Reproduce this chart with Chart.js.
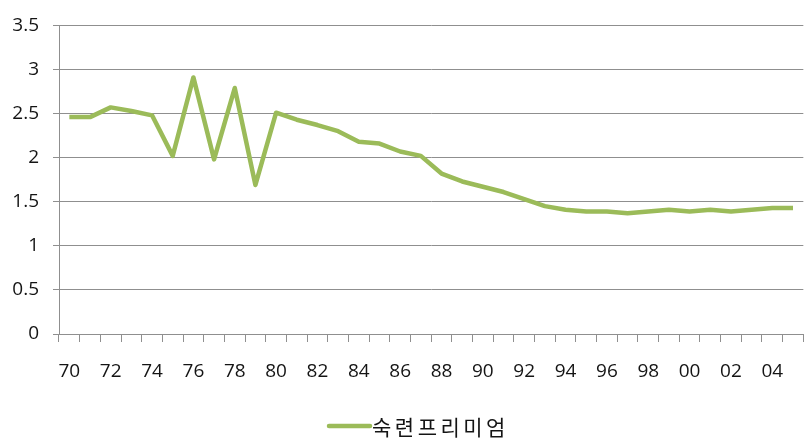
<!DOCTYPE html>
<html lang="ko">
<head>
<meta charset="utf-8">
<title>숙련프리미엄</title>
<script src="https://cdn.jsdelivr.net/npm/chart.js@4/dist/chart.umd.min.js"></script>
<style>
  html, body { margin: 0; padding: 0; background: #ffffff; overflow: hidden; }
  #wrap { position: relative; width: 811px; height: 441px; }
</style>
</head>
<body>
<div id="wrap"><canvas id="chart"></canvas></div>
<script>
// Years 1970–2005, two-digit labels
const years = ['70','71','72','73','74','75','76','77','78','79',
               '80','81','82','83','84','85','86','87','88','89',
               '90','91','92','93','94','95','96','97','98','99',
               '00','01','02','03','04','05'];

// Skill premium by year
const skillPremium = [2.46, 2.46, 2.57, 2.53, 2.48, 2.02, 2.91, 1.98, 2.79, 1.69,
                      2.51, 2.43, 2.37, 2.30, 2.18, 2.16, 2.07, 2.02, 1.82, 1.73,
                      1.67, 1.61, 1.53, 1.45, 1.41, 1.39, 1.39, 1.37, 1.39, 1.41,
                      1.39, 1.41, 1.39, 1.41, 1.43, 1.43];

const seriesName = '숙련프리미엄';

// Value axis
const yMin = 0;
const yMax = 3.5;
const yStep = 0.5;

const GREEN = '#9bbb59';
const GRID = '#8f8f8f';
const TEXT = '#141414';

// Simple bottom legend: line sample followed by the series name
const lineLegend = {
  id: 'lineLegend',
  afterDraw(chart) {
    const ds = chart.data.datasets[0];
    const ctx = chart.ctx;
    const area = chart.chartArea;
    const y = chart.height - 15;
    const x0 = area.left + 270;
    const sample = 41;
    ctx.save();
    ctx.strokeStyle = ds.borderColor;
    ctx.lineWidth = ds.borderWidth;
    ctx.lineCap = 'round';
    ctx.beginPath();
    ctx.moveTo(x0, y);
    ctx.lineTo(x0 + sample, y);
    ctx.stroke();
    ctx.fillStyle = TEXT;
    ctx.font = '21px "Noto Sans CJK KR", "Noto Sans CJK SC", sans-serif';
    if ('letterSpacing' in ctx) ctx.letterSpacing = '3.5px';
    ctx.textBaseline = 'middle';
    ctx.textAlign = 'left';
    ctx.fillText(ds.label, x0 + sample + 2, y + 1);
    ctx.restore();
  }
};

new Chart(document.getElementById('chart'), {
  type: 'line',
  data: {
    labels: years,
    datasets: [{
      label: seriesName,
      data: skillPremium,
      borderColor: GREEN,
      backgroundColor: GREEN,
      borderWidth: 4.5,
      borderJoinStyle: 'round',
      borderCapStyle: 'butt',
      pointRadius: 0,
      pointHoverRadius: 0,
      tension: 0,
      fill: false
    }]
  },
  options: {
    responsive: true,
    maintainAspectRatio: false,
    animation: false,
    events: [],
    layout: { padding: { top: 19, left: 0, right: 0, bottom: 30 } },
    plugins: {
      legend: { display: false },
      tooltip: { enabled: false }
    },
    scales: {
      x: {
        type: 'category',
        offset: true,
        afterFit(scale) { scale.height = 77; },
        grid: {
          offset: true,
          drawOnChartArea: false,
          drawTicks: true,
          tickLength: 8,
          color: GRID,
          lineWidth: 1
        },
        border: { display: true, color: GRID, width: 1 },
        ticks: {
          autoSkip: false,
          maxRotation: 0,
          minRotation: 0,
          padding: 18,
          color: TEXT,
          font: { family: '"Open Sans", sans-serif', size: 19 },
          callback(value, index) {
            return index % 2 === 0 ? this.getLabelForValue(value) : '';
          }
        }
      },
      y: {
        min: yMin,
        max: yMax,
        afterFit(scale) { scale.width = 59; },
        grid: {
          drawTicks: true,
          tickLength: 6,
          color: GRID,
          lineWidth: 1
        },
        border: { display: true, color: GRID, width: 1 },
        ticks: {
          stepSize: yStep,
          padding: 14,
          color: TEXT,
          font: { family: '"Open Sans", sans-serif', size: 19 },
          callback(value) { return String(value); }
        }
      }
    }
  },
  plugins: [lineLegend]
});
</script>
</body>
</html>
